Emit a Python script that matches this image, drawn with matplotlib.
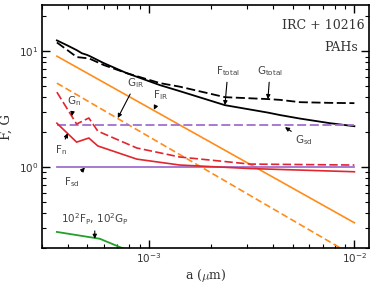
import numpy as np
import matplotlib
matplotlib.use('Agg')
import matplotlib.pyplot as plt

# grain radius (micron) for the black / red curves
a_tot = [3.55e-4, 4.0e-4, 4.44e-4, 4.70e-4, 4.97e-4, 5.14e-4, 6.0e-4, 7.78e-4, 1.13e-3,
         1.41e-3, 2.34e-3, 3.79e-3, 4.34e-3, 5.43e-3, 7.61e-3, 1.0e-2]
F_total = [12.4, 11.2, 10.2, 9.6, 9.3, 9.06, 7.9, 6.46, 5.09, 4.52, 3.42, 2.95, 2.81, 2.62,
           2.39, 2.25]
G_total = [11.9, 10.2, 8.9, 8.8, 8.7, 8.6, 7.6, 6.46, 5.3, 4.94, 4.01, 3.86, 3.8, 3.63,
           3.58, 3.56]

a_n = [3.55e-4, 4.43e-4, 5.08e-4, 5.62e-4, 8.7e-4, 1.41e-3, 3.1e-3, 1.0e-2]
G_n = [4.43, 2.35, 2.65, 2.04, 1.46, 1.22, 1.06, 1.04]
F_n = [2.39, 1.64, 1.78, 1.52, 1.17, 1.04, 0.97, 0.91]

a_ir = [3.55e-4, 1.0e-2]
F_IR = [9.06, 0.33]
G_IR = [5.3, 0.17]

a_sd = [3.55e-4, 1.0e-2]
F_sd = [1.0, 1.0]
G_sd = [2.3, 2.3]

a_p = [3.55e-4, 5.75e-4, 7.36e-4, 8.5e-4]
FP100 = [0.275, 0.24, 0.2, 0.185]

fig = plt.figure(figsize=(3.74, 2.85), dpi=100)
ax = fig.add_axes([0.112, 0.130, 0.875, 0.852])

ax.plot(a_tot, F_total, color='k', lw=1.3)
ax.plot(a_tot, G_total, color='k', lw=1.3, ls=(0, (5, 2)))
ax.plot(a_ir, F_IR, color='#ff8c1a', lw=1.2)
ax.plot(a_ir, G_IR, color='#ff8c1a', lw=1.2, ls=(0, (4, 2)))
ax.plot(a_sd, G_sd, color='#a070d0', lw=1.3, ls=(0, (5, 2)))
ax.plot(a_sd, F_sd, color='#a070d0', lw=1.3)
ax.plot(a_n, G_n, color='#e0262e', lw=1.2, ls=(0, (5, 2)))
ax.plot(a_n, F_n, color='#e0262e', lw=1.2)
ax.plot(a_p, FP100, color='#22a02a', lw=1.3)

ax.set_xscale('log')
ax.set_yscale('log')
ax.set_xlim(3.0e-4, 1.18e-2)
ax.set_ylim(0.2, 25)

ax.tick_params(which='both', direction='in', top=True, right=True, labelsize=7.5,
               labelcolor='#333333', pad=2.5)
ax.tick_params(which='major', length=5.5, width=1)
ax.tick_params(which='minor', length=3, width=0.8)
for s in ax.spines.values():
    s.set_linewidth(1.2)

ax.set_xlabel(r'a ($\mu$m)', family='DejaVu Serif', fontsize=9, color='#333333',
              math_fontfamily='cm', labelpad=1)
ax.set_ylabel('F, G', family='DejaVu Serif', fontsize=9.5, color='#333333')
ax.yaxis.set_label_coords(-0.088, 0.5)

ax.text(0.86, 0.915, 'IRC + 10216', transform=ax.transAxes, ha='center', va='center',
        family='DejaVu Serif', fontsize=9, color='#333333')
ax.text(0.915, 0.825, 'PAHs', transform=ax.transAxes, ha='center', va='center',
        family='DejaVu Serif', fontsize=9, color='#333333')

arrow = dict(arrowstyle='-|>', color='k', lw=0.8, mutation_scale=6, shrinkA=1, shrinkB=0)
labels = [
    (r'F$_{\mathrm{total}}$', (2.34e-3, 3.42), (2.42e-3, 6.72)),
    (r'G$_{\mathrm{total}}$', (3.79e-3, 3.86), (3.88e-3, 6.72)),
    (r'G$_{\mathrm{sd}}$', (4.59e-3, 2.21), (5.69e-3, 1.71)),
    (r'G$_{\mathrm{IR}}$', (7.03e-4, 2.65), (8.61e-4, 5.3)),
    (r'F$_{\mathrm{IR}}$', (1.054e-3, 3.12), (1.14e-3, 4.17)),
    (r'G$_{\mathrm{n}}$', (4.2e-4, 2.75), (4.3e-4, 3.71)),
    (r'F$_{\mathrm{n}}$', (4.01e-4, 1.96), (3.7e-4, 1.40)),
    (r'F$_{\mathrm{sd}}$', (4.86e-4, 0.99), (4.2e-4, 0.742)),
    (r'10$^2$F$_{\mathrm{P}}$, 10$^2$G$_{\mathrm{P}}$', (5.43e-4, 0.24), (5.43e-4, 0.356)),
]
for txt, tip, pos in labels:
    ax.annotate(txt, xy=tip, xytext=pos, ha='center', va='center', fontsize=7.5,
                color='#444444', arrowprops=arrow)

fig.savefig('out.png', dpi=100)
